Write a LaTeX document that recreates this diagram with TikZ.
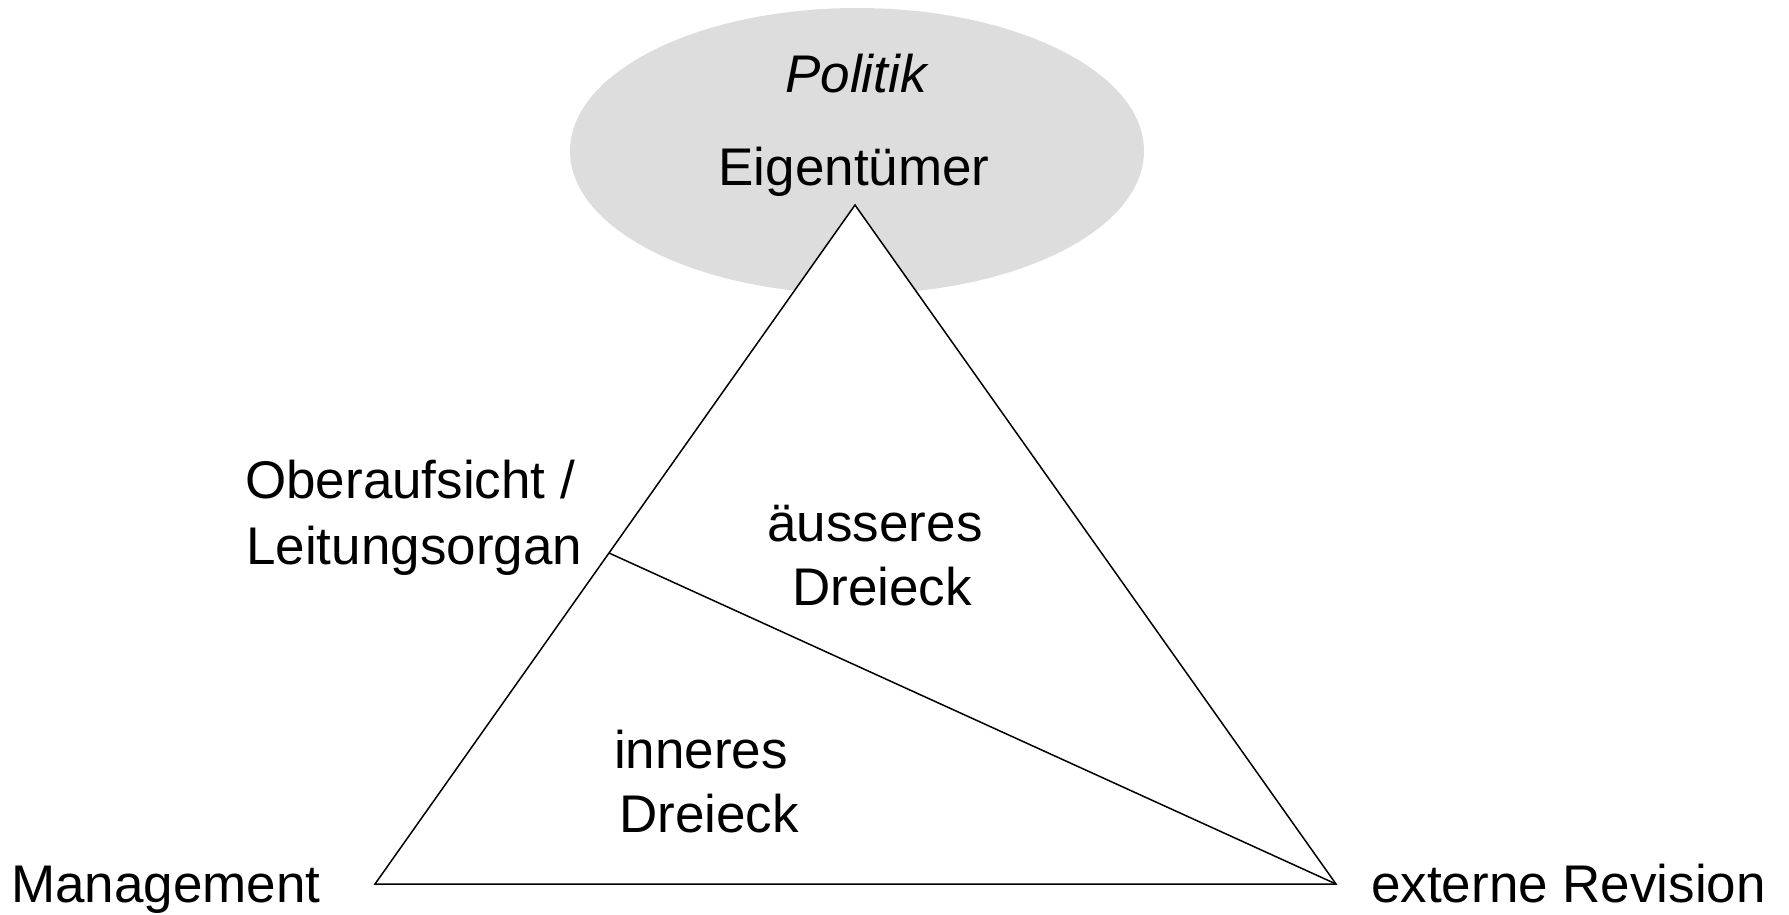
\documentclass[tikz,border=0pt]{standalone}
\usepackage{fontspec}
\setmainfont{Liberation Sans}
\usetikzlibrary{calc}
\definecolor{ellgray}{HTML}{DDDDDD}
\begin{document}
\begin{tikzpicture}[x=1pt,y=-1pt,
  lbl/.style={inner sep=0pt, anchor=base, font=\fontsize{53}{64}\selectfont},
  lbll/.style={lbl, anchor=base west},
  edge/.style={line width=1.5pt, black, line join=miter}]
\useasboundingbox (0,0) rectangle (1789,914);
% ellipse
\fill[ellgray] (857,151) ellipse [x radius=287, y radius=143];
% triangle corners
\coordinate (top) at (855,205);
\coordinate (bl) at (375,884);
\coordinate (br) at (1336,884);
\coordinate (mid) at ($(top)!0.5125!(bl)$);
\draw[edge, fill=white] (top) -- (bl) -- (br) -- cycle;
\draw[edge] (mid) -- (br);
% labels
\node[lbl, font=\fontsize{53}{64}\selectfont\itshape] (politik) at (856,92) {Politik};
\node[lbl] (eig) at (854,185) {Eigentümer};
\node[lbll] (ober1) at (245,498) {Oberaufsicht /};
\node[lbll] (ober2) at (246,564) {Leitungsorgan};
\node[lbl] (aus1) at (875,541) {äusseres};
\node[lbl] (aus2) at (882,605) {Dreieck};
\node[lbl] (inn1) at (701,768) {inneres};
\node[lbl] (inn2) at (709,832) {Dreieck};
\node[lbll] (mgmt) at (11,902) {Management};
\node[lbll] (ext) at (1371,902) {externe Revision};
\end{tikzpicture}
\end{document}
